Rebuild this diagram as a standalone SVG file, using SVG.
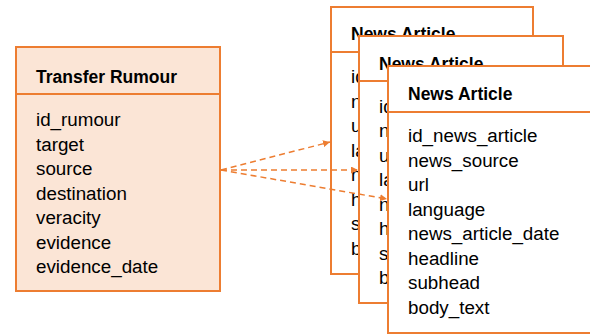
<svg xmlns="http://www.w3.org/2000/svg" width="590" height="335" viewBox="0 0 590 335">
<defs>
<style>
.box{fill:#ffffff;stroke:#ED7D31;stroke-width:2}
.rbox{fill:#FBE5D6;stroke:#ED7D31;stroke-width:2}
.div{stroke:#ED7D31;stroke-width:2}
.t{font-family:"Liberation Sans",Arial,sans-serif;font-size:17.5px;font-weight:bold;fill:#000}
.f{font-family:"Liberation Sans",Arial,sans-serif;font-size:18.8px;fill:#000}
.c{stroke:#ED7D31;stroke-width:1.5;stroke-dasharray:6,4;fill:none}
</style>
<marker id="ah" viewBox="0 0 10 10" refX="10" refY="5" markerWidth="7" markerHeight="7" markerUnits="userSpaceOnUse" orient="auto">
<path d="M0,0 L10,5 L0,10 z" fill="#ED7D31"/>
</marker>
</defs>
<rect x="0" y="0" width="590" height="335" fill="#ffffff"/>
<g id="transfer-rumour">
<rect class="rbox" x="16" y="47" width="204" height="244"/>
<line class="div" x1="16" y1="94" x2="220" y2="94"/>
<text class="t" x="36" y="83">Transfer Rumour</text>
<text class="f" x="36" y="126">id_rumour</text>
<text class="f" x="36" y="150.5">target</text>
<text class="f" x="36" y="175">source</text>
<text class="f" x="36" y="199.5">destination</text>
<text class="f" x="36" y="224">veracity</text>
<text class="f" x="36" y="248.5">evidence</text>
<text class="f" x="36" y="273">evidence_date</text>
</g>
<g id="news-article-1">
<rect class="box" x="331" y="7" width="202" height="267"/>
<line class="div" x1="331" y1="52" x2="533" y2="52"/>
<text class="t" x="351" y="40">News Article</text>
<text class="f" x="351" y="83">id_news_article</text>
<text class="f" x="351" y="107.5">news_source</text>
<text class="f" x="351" y="132">url</text>
<text class="f" x="351" y="156.5">language</text>
<text class="f" x="351" y="181">news_article_date</text>
<text class="f" x="351" y="205.5">headline</text>
<text class="f" x="351" y="230">subhead</text>
<text class="f" x="351" y="254.5">body_text</text>
</g>
<g id="news-article-2">
<rect class="box" x="359" y="36" width="204" height="267"/>
<line class="div" x1="359" y1="81" x2="563" y2="81"/>
<text class="t" x="379" y="69.5">News Article</text>
<text class="f" x="379" y="112.5">id_news_article</text>
<text class="f" x="379" y="137">news_source</text>
<text class="f" x="379" y="161.5">url</text>
<text class="f" x="379" y="186">language</text>
<text class="f" x="379" y="210.5">news_article_date</text>
<text class="f" x="379" y="235">headline</text>
<text class="f" x="379" y="259.5">subhead</text>
<text class="f" x="379" y="284">body_text</text>
</g>
<g id="news-article-3">
<rect class="box" x="388" y="66" width="206" height="267"/>
<line class="div" x1="388" y1="112" x2="594" y2="112"/>
<text class="t" x="408" y="99.5">News Article</text>
<text class="f" x="408" y="142">id_news_article</text>
<text class="f" x="408" y="166.5">news_source</text>
<text class="f" x="408" y="191">url</text>
<text class="f" x="408" y="215.5">language</text>
<text class="f" x="408" y="240">news_article_date</text>
<text class="f" x="408" y="264.5">headline</text>
<text class="f" x="408" y="289">subhead</text>
<text class="f" x="408" y="313.5">body_text</text>
</g>
<g id="connectors">
<line class="c" x1="221" y1="170" x2="330" y2="142" marker-end="url(#ah)"/>
<line class="c" x1="221" y1="170" x2="358" y2="170" marker-end="url(#ah)"/>
<line class="c" x1="221" y1="170" x2="387" y2="199" marker-end="url(#ah)"/>
</g>
</svg>
